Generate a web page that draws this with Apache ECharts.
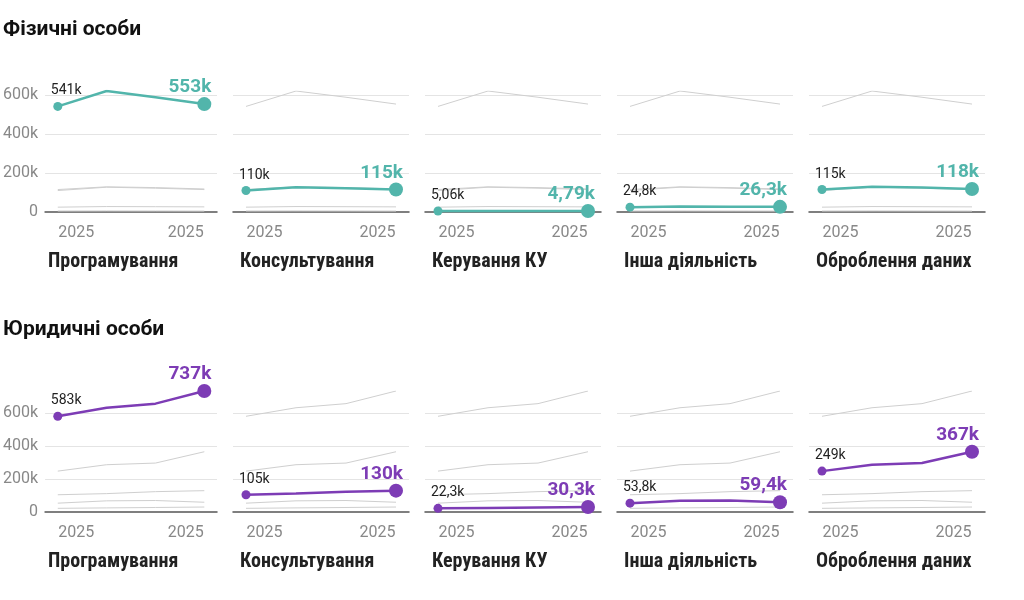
<!DOCTYPE html>
<html>
<head>
<meta charset="utf-8">
<script src="https://cdn.jsdelivr.net/npm/echarts@6/dist/echarts.min.js"></script>
<style>
html,body{margin:0;padding:0;background:#fff;}
#chart{width:1024px;height:600px;}
</style>
</head>
<body>
<div id="chart"></div>
<script>
// ---- data ----
const rowTitles = ['Фізичні особи', 'Юридичні особи'];
const categories = ['Програмування', 'Консультування', 'Керування КУ', 'Інша діяльність', 'Оброблення даних'];
const periods = ['2025', '2025', '2025', '2025'];
const yTicks = [0, 200000, 400000, 600000];

// Фізичні особи
const fizProgramming = [541000, 620000, 588000, 553000];
const fizConsulting  = [110000, 127000, 122000, 115000];
const fizManagement  = [5060, 5500, 5200, 4790];
const fizOther       = [24800, 28000, 27200, 26300];
const fizData        = [115000, 129000, 125000, 118000];

// Юридичні особи
const jurProgramming = [583000, 635000, 660000, 737000];
const jurConsulting  = [105000, 112000, 124000, 130000];
const jurManagement  = [22300, 25000, 27500, 30300];
const jurOther       = [53800, 68000, 70000, 59400];
const jurData        = [249000, 288000, 298000, 367000];

const rows = [
  [fizProgramming, fizConsulting, fizManagement, fizOther, fizData],
  [jurProgramming, jurConsulting, jurManagement, jurOther, jurData]
];
const rowColors = ['#52b5ab', '#7d3cb5'];

// ---- helpers ----
function fmtK(v) {
  const k = v / 1000;
  let s = k >= 100 ? String(Math.round(k)) : k.toPrecision(3);
  return s.replace('.', ',') + 'k';
}
function fmtAxis(v) { return v === 0 ? '0' : (v / 1000) + 'k'; }

const chart = echarts.init(document.getElementById('chart'));
const grids = [], xAxes = [], yAxes = [], series = [], titles = [];
const FONT = 'Roboto, "Noto Sans", sans-serif';
const CFONT = '"Roboto Condensed", "Liberation Sans Narrow", "DejaVu Sans Condensed", Roboto, sans-serif';

rowTitles.forEach((t, r) => {
  titles.push({
    text: t, left: 3, top: 19 + r * 300, padding: 0,
    textStyle: { fontFamily: FONT, fontSize: 21, fontWeight: 'bold', color: '#111' }
  });
});

rows.forEach((rowSeries, r) => {
  const rowMax = Math.max(...rowSeries.flat());
  categories.forEach((cat, c) => {
    const gi = grids.length;
    const left = 41 + 192 * c;
    grids.push({ left: left, top: 91 + r * 300, width: 176, height: 121 });
    titles.push({
      text: cat, left: left + 7, top: 252 + r * 300, padding: 0,
      textStyle: { fontFamily: CFONT, fontSize: 20, fontWeight: 'bold', color: '#222' }
    });
    xAxes.push({
      gridIndex: gi, type: 'value', min: -0.26, max: 3.26,
      axisLine: { show: true, onZero: false, lineStyle: { color: '#555', width: 1.5 } },
      axisTick: { show: false },
      splitLine: { show: false },
      axisLabel: {
        customValues: [0, periods.length - 1],
        margin: 13,
        color: '#888', fontFamily: FONT, fontSize: 16,
        formatter: function (v) {
          const i = Math.round(v);
          return i === 0 ? '{l|' + periods[i] + '}' : '{r|' + periods[i] + '}';
        },
        rich: {
          l: { padding: [0, 0, 0, 37], color: '#888', fontFamily: FONT, fontSize: 16 },
          r: { padding: [0, 37, 0, 0], color: '#888', fontFamily: FONT, fontSize: 16 }
        }
      }
    });
    yAxes.push({
      gridIndex: gi, type: 'value', min: 0, max: rowMax, interval: 200000,
      axisLine: { show: false }, axisTick: { show: false },
      splitLine: { show: true, showMaxLine: false, showMinLine: false, lineStyle: { color: '#e4e4e4', width: 1 } },
      axisLabel: {
        show: c === 0, showMaxLabel: false, margin: 7,
        color: '#888', fontFamily: FONT, fontSize: 16,
        formatter: fmtAxis
      }
    });
    // gray context lines
    rowSeries.forEach((vals, k) => {
      if (k === c) return;
      series.push({
        type: 'line', xAxisIndex: gi, yAxisIndex: gi, silent: true,
        symbol: 'none', z: 1,
        lineStyle: { color: '#cfcfcf', width: 1 },
        data: vals.map((v, i) => [i, v])
      });
    });
    // highlighted line
    const vals = rowSeries[c];
    const col = rowColors[r];
    const last = vals.length - 1;
    series.push({
      type: 'line', xAxisIndex: gi, yAxisIndex: gi, z: 5,
      symbol: 'circle', showSymbol: true,
      lineStyle: { color: col, width: 2.5 },
      itemStyle: { color: col },
      data: vals.map((v, i) => {
        const item = { value: [i, v], symbolSize: i === 0 ? 9 : (i === last ? 14 : 0) };
        if (i === 0) {
          item.label = {
            show: true, position: 'top', align: 'left', distance: 4, offset: [-7, 0],
            formatter: fmtK(v), color: '#222', fontFamily: FONT, fontSize: 14
          };
        } else if (i === last) {
          item.label = {
            show: true, position: 'top', align: 'right', distance: 0, offset: [7, 0],
            formatter: fmtK(v), color: col, fontFamily: FONT, fontSize: 19, fontWeight: 'bold'
          };
        }
        return item;
      })
    });
  });
});

chart.setOption({
  animation: false,
  backgroundColor: '#fff',
  title: titles,
  grid: grids,
  xAxis: xAxes,
  yAxis: yAxes,
  series: series
});
</script>
</body>
</html>
